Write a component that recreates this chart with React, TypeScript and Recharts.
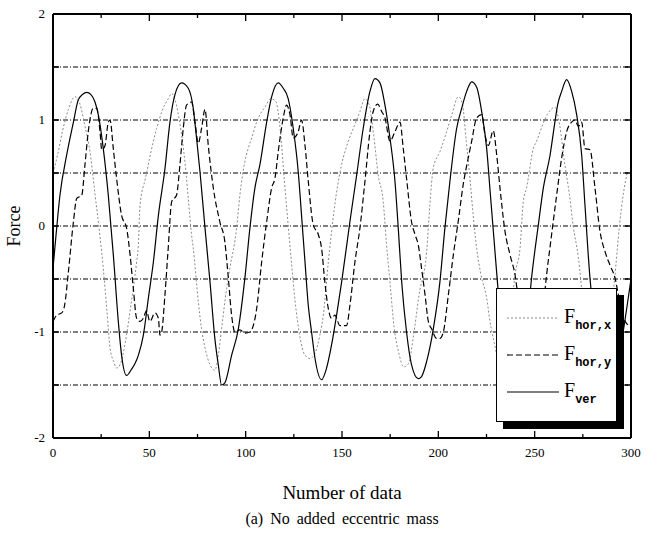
import { LineChart, Line, XAxis, YAxis, CartesianGrid, Legend } from 'recharts'

// sample number (x) and force (y), one pair of arrays per series
const horXn = [0, 2.5, 5, 8, 11.4, 14, 16.5, 19.2, 21.8, 24.4, 26.1, 28, 29.6, 31.5, 33, 35, 37.5, 40, 43.4, 44.3, 45.2, 48, 52.1, 53.8, 56.5, 59.8, 61.6, 63.5, 66, 68.5, 70.2, 71.9, 72.8, 75.4, 77.1, 78.9, 81.5, 84, 85.8, 87.5, 90.1, 91.8, 95.3, 97, 99.6, 101.3, 103.1, 105.7, 107.4, 110, 113, 115.5, 118, 120, 122.1, 123.8, 125.6, 128.2, 130.8, 133.4, 136, 138.5, 140.3, 142.9, 144.6, 147.2, 149.8, 153.3, 156.5, 159.3, 161.9, 164, 166.5, 168.8, 171.4, 173, 175, 177, 179.5, 182, 184.5, 187, 190, 193.9, 195.6, 197.4, 200.8, 204.3, 207, 210.4, 212.5, 214.5, 216.4, 218.1, 219.9, 222, 225.1, 226.8, 229, 232, 235, 237.5, 239.8, 242.4, 244.1, 245.8, 249.3, 251, 252.8, 256.5, 260.5, 263, 265.5, 268, 270, 272.7, 275, 278, 282, 286, 289, 291.5, 294, 296, 298]
const horXv = [0.5, 0.68, 0.9, 1.1, 1.22, 1.15, 0.95, 0.7, 0.3, -0.1, -0.4, -0.8, -1.15, -1.28, -1.34, -1.3, -1.1, -0.8, -0.34, -0.18, 0.2, 0.45, 0.8, 0.92, 1.08, 1.2, 1.25, 1.18, 0.95, 0.6, 0.26, -0.08, -0.21, -0.71, -0.97, -1.15, -1.31, -1.36, -1.22, -0.97, -0.59, -0.4, -0.02, 0.29, 0.61, 0.73, 0.83, 0.98, 1.05, 1.12, 1.2, 1.18, 0.9, 0.45, 0.0, -0.35, -0.7, -1.05, -1.22, -1.25, -1.2, -1.03, -0.84, -0.34, -0.05, 0.32, 0.58, 0.8, 0.95, 1.08, 1.2, 1.15, 0.85, 0.48, 0.23, -0.15, -0.55, -0.95, -1.2, -1.33, -1.3, -1.05, -0.65, -0.25, 0.2, 0.55, 0.7, 0.89, 1.05, 1.22, 1.15, 0.8, 0.45, 0.1, -0.21, -0.45, -0.68, -0.9, -1.1, -1.3, -1.28, -0.9, -0.46, -0.21, 0.23, 0.36, 0.73, 0.8, 0.89, 1.05, 1.12, 0.95, 0.6, 0.3, 0.0, -0.3, -0.7, -1.1, -1.35, -1.2, -0.9, -0.5, 0.0, 0.3, 0.5]

const horYn = [0, 2, 4.5, 6, 8, 10.6, 12.3, 14.9, 16.6, 18.3, 20.9, 22.7, 24.4, 25.3, 27, 28.7, 29.6, 31.3, 33, 35.6, 38.2, 40, 41.7, 43.4, 45.2, 46.9, 48.5, 50.3, 52.9, 54.7, 55.5, 56.4, 58.1, 59.8, 61.6, 64.1, 65.9, 67.6, 69.3, 71.9, 73.7, 75.4, 77.1, 78.9, 80.6, 83.2, 86.6, 89.2, 91, 92.7, 94.4, 97, 99.6, 102.2, 105.7, 108.3, 110.9, 113.5, 115.2, 116.9, 119.5, 121.2, 123, 124.7, 127.3, 129, 130.8, 132.5, 135.1, 137.7, 139.4, 141.1, 142.9, 144.6, 146.3, 148.9, 152.4, 154.1, 156.7, 159.3, 161.9, 164.5, 166.2, 168.5, 170.6, 172.3, 174.9, 177.5, 180.1, 181.8, 183.5, 186.1, 187.9, 189.6, 191.3, 193.1, 194.8, 196.5, 199.1, 200.8, 202.6, 205.2, 207.8, 210.3, 212.9, 215.5, 217.3, 219.9, 222.5, 224.2, 226, 228.5, 230.3, 232, 234.6, 237.2, 239.8, 242, 245, 249, 252, 254.5, 256.2, 258.8, 261.4, 264, 266.6, 269.2, 270.9, 272.7, 274.4, 276.1, 278.7, 281.3, 283.9, 286.5, 289.1, 291.7, 294, 297, 300]
const horYv = [-0.9, -0.84, -0.82, -0.75, -0.43, 0.04, 0.26, 0.29, 0.58, 0.89, 1.11, 1.11, 0.89, 0.72, 0.76, 0.98, 1.0, 0.73, 0.45, 0.1, -0.02, -0.27, -0.59, -0.87, -0.9, -0.87, -0.8, -0.9, -0.82, -0.87, -1.03, -1.0, -0.65, -0.21, 0.23, 0.29, 0.58, 0.92, 1.14, 1.17, 0.98, 0.78, 0.92, 1.1, 0.76, 0.36, 0.04, -0.15, -0.49, -0.84, -1.0, -0.98, -1.01, -1.0, -0.78, -0.34, 0.04, 0.36, 0.45, 0.7, 1.02, 1.14, 1.05, 0.83, 0.89, 1.0, 0.76, 0.42, 0.01, -0.08, -0.21, -0.53, -0.78, -0.87, -0.84, -0.94, -0.94, -0.75, -0.34, -0.02, 0.42, 0.89, 1.08, 1.15, 1.08, 1.02, 0.8, 0.89, 0.98, 0.73, 0.45, 0.04, -0.08, -0.18, -0.4, -0.65, -0.9, -0.97, -1.06, -1.06, -1.0, -0.65, -0.27, 0.04, 0.39, 0.64, 0.8, 1.02, 1.05, 0.86, 0.76, 0.9, 0.67, 0.36, -0.05, -0.27, -0.46, -0.75, -1.0, -1.05, -0.95, -0.75, -0.46, -0.08, 0.29, 0.64, 0.89, 0.98, 1.0, 0.94, 0.98, 0.73, 0.72, 0.36, -0.05, -0.24, -0.37, -0.49, -0.7, -0.9, -0.95]

const verN = [0, 1.5, 3.6, 7.1, 10.6, 13.1, 15.3, 17.5, 19.7, 21.8, 23.5, 26.1, 28.7, 31.3, 33.9, 35.6, 38.2, 40.8, 42.5, 44.3, 46.9, 49.5, 52.1, 54.7, 58.1, 60.7, 63.3, 66.7, 70.2, 72.8, 74.5, 76.3, 78.9, 81.5, 84, 85.8, 87.5, 89.2, 92.7, 96.2, 99.6, 102.2, 104.8, 107.4, 110.9, 113.5, 116.9, 119.5, 122.1, 124.7, 127.3, 129, 130.8, 132.5, 134.2, 136, 139.4, 142, 144.6, 147.2, 149.8, 154.1, 157.6, 161, 164.5, 167.1, 169.7, 172.3, 174.9, 177.5, 179.2, 181, 183.5, 186.1, 189.6, 191.3, 193.9, 197.4, 200.8, 203.4, 206, 209.5, 212.1, 214.7, 217.3, 219.9, 222.5, 225.1, 227, 229, 231, 234, 237, 240, 243, 246, 248.4, 251.9, 254.5, 258, 260.5, 262, 264, 266.6, 269.2, 271.8, 274.4, 276.1, 278.7, 282, 286, 290, 294, 298, 300]
const verV = [-0.4, -0.1, 0.29, 0.67, 0.98, 1.19, 1.24, 1.26, 1.24, 1.17, 1.05, 0.73, 0.29, -0.27, -0.9, -1.22, -1.41, -1.35, -1.3, -1.22, -1.03, -0.68, -0.34, 0.1, 0.54, 0.98, 1.24, 1.35, 1.3, 1.11, 0.83, 0.51, -0.02, -0.53, -1.06, -1.31, -1.5, -1.48, -1.22, -0.97, -0.49, -0.02, 0.36, 0.58, 0.98, 1.22, 1.35, 1.3, 1.2, 0.92, 0.51, 0.1, -0.34, -0.75, -1.0, -1.25, -1.45, -1.34, -1.12, -0.84, -0.53, 0.04, 0.48, 0.92, 1.27, 1.39, 1.35, 1.14, 0.83, 0.42, -0.02, -0.53, -1.0, -1.31, -1.44, -1.42, -1.28, -0.97, -0.53, -0.02, 0.42, 0.92, 1.11, 1.27, 1.36, 1.31, 1.08, 0.73, 0.3, -0.15, -0.6, -1.1, -1.35, -1.42, -1.3, -0.95, -0.49, 0.01, 0.36, 0.67, 0.98, 1.15, 1.27, 1.38, 1.27, 1.05, 0.67, 0.2, -0.49, -1.0, -1.35, -1.42, -1.2, -0.75, -0.5]

const xTicks = [0, 25, 50, 75, 100, 125, 150, 175, 200, 225, 250, 275, 300]
const yTicks = [-2, -1.5, -1, -0.5, 0, 0.5, 1, 1.5, 2]

const toPoints = (ns: number[], vs: number[]) => ns.map((n, i) => ({ n, f: vs[i] }))

const series = [
  { key: 'hx', sub: 'hor,x', data: toPoints(horXn, horXv), stroke: '#8a8a8a', dash: '2 2', width: 1 },
  { key: 'hy', sub: 'hor,y', data: toPoints(horYn, horYv), stroke: '#000', dash: '6 3', width: 1.2 },
  { key: 'v', sub: 'ver', data: toPoints(verN, verV), stroke: '#000', dash: undefined, width: 1.2 },
]

const serif = '"Liberation Serif", "Times New Roman", serif'

const BottomTick = ({ x, y, payload }: any) => {
  const major = payload.value % 50 === 0
  return (
    <g>
      <line x1={x} x2={x} y1={y} y2={y - (major ? 7 : 4)} stroke="#000" strokeWidth={1.3} />
      {major && (
        <text x={x} y={y + 19} textAnchor="middle" fontSize={13} fontFamily={serif} fill="#000">
          {payload.value}
        </text>
      )}
    </g>
  )
}

const TopTick = ({ x, y, payload }: any) => {
  const major = payload.value % 50 === 0
  return <line x1={x} x2={x} y1={y} y2={y + (major ? 7 : 4)} stroke="#000" strokeWidth={1.3} />
}

const LeftTick = ({ x, y, payload }: any) => (
  <g>
    <line x1={x} x2={x + 6} y1={y} y2={y} stroke="#000" strokeWidth={1.5} />
    {Number.isInteger(payload.value) && (
      <text x={x - 8} y={y + 4} textAnchor="end" fontSize={13} fontFamily={serif} fill="#000">
        {payload.value}
      </text>
    )}
  </g>
)

const RightTick = ({ x, y }: any) => (
  <line x1={x} x2={x - 6} y1={y} y2={y} stroke="#000" strokeWidth={1.5} />
)

const LegendBox = () => (
  <div
    style={{
      width: 121,
      height: 134,
      boxSizing: 'border-box',
      border: '1.5px solid #000',
      background: '#fff',
      boxShadow: '7px 7px 0 #000',
      position: 'relative',
    }}
  >
    {series.map((s, i) => (
      <div key={s.key} style={{ position: 'absolute', left: 10, top: 17 + i * 37, display: 'flex', alignItems: 'center' }}>
        <svg width={52} height={4}>
          <line x1={0} x2={52} y1={2} y2={2} stroke={s.stroke} strokeWidth={s.width} strokeDasharray={s.dash} />
        </svg>
        <span style={{ fontFamily: serif, fontSize: 20, marginLeft: 5, lineHeight: '20px' }}>
          F
          <span style={{ fontFamily: '"Liberation Mono", monospace', fontWeight: 'bold', fontSize: 12, position: 'relative', top: 6 }}>
            {s.sub}
          </span>
        </span>
      </div>
    ))}
  </div>
)

export default function App() {
  return (
    <div style={{ position: 'absolute', left: 0, top: 0, width: 657, height: 535, background: '#fff' }}>
      <LineChart width={657} height={535} margin={{ top: 0, right: 0, bottom: 0, left: 0 }}>
        <CartesianGrid vertical={false} stroke="#000" strokeDasharray="5 2 1 2" strokeWidth={1} />
        <XAxis
          dataKey="n"
          type="number"
          domain={[0, 300]}
          ticks={xTicks}
          allowDataOverflow
          height={97}
          tickSize={0}
          tickMargin={0}
          tick={<BottomTick />}
          axisLine={{ stroke: '#000', strokeWidth: 2 }}
          tickLine={false}
        />
        <XAxis
          xAxisId="top"
          orientation="top"
          dataKey="n"
          type="number"
          domain={[0, 300]}
          ticks={xTicks}
          allowDataOverflow
          height={14}
          tickSize={0}
          tickMargin={0}
          tick={<TopTick />}
          axisLine={{ stroke: '#000', strokeWidth: 2 }}
          tickLine={false}
        />
        <YAxis
          type="number"
          domain={[-2, 2]}
          ticks={yTicks}
          allowDataOverflow
          width={53}
          tickSize={0}
          tickMargin={0}
          tick={<LeftTick />}
          axisLine={{ stroke: '#000', strokeWidth: 2 }}
          tickLine={false}
        />
        <YAxis
          yAxisId="right"
          orientation="right"
          type="number"
          domain={[-2, 2]}
          ticks={yTicks}
          allowDataOverflow
          width={26}
          tickSize={0}
          tickMargin={0}
          tick={<RightTick />}
          axisLine={{ stroke: '#000', strokeWidth: 2 }}
          tickLine={false}
        />
        {series.map((s) => (
          <Line
            key={s.key}
            data={s.data}
            dataKey="f"
            type="monotone"
            stroke={s.stroke}
            strokeWidth={s.width}
            strokeDasharray={s.dash}
            dot={false}
            activeDot={false}
            isAnimationActive={false}
          />
        ))}
        <Legend
          layout="horizontal"
          verticalAlign="middle"
          align="center"
          content={() => <LegendBox />}
          wrapperStyle={{ left: 496, top: 288, width: 121, height: 134 }}
        />
      </LineChart>
      <div
        style={{
          position: 'absolute',
          left: 14,
          top: 226,
          transform: 'translate(-50%, -50%) rotate(-90deg)',
          fontFamily: serif,
          fontSize: 18,
          whiteSpace: 'nowrap',
        }}
      >
        Force
      </div>
      <div
        style={{
          position: 'absolute',
          left: 0,
          width: 684,
          top: 482,
          textAlign: 'center',
          fontFamily: serif,
          fontSize: 19,
        }}
      >
        Number of data
      </div>
      <div
        style={{
          position: 'absolute',
          left: 0,
          width: 684,
          top: 510,
          textAlign: 'center',
          fontFamily: serif,
          fontSize: 16,
          wordSpacing: 3,
        }}
      >
        (a) No added eccentric mass
      </div>
    </div>
  )
}
